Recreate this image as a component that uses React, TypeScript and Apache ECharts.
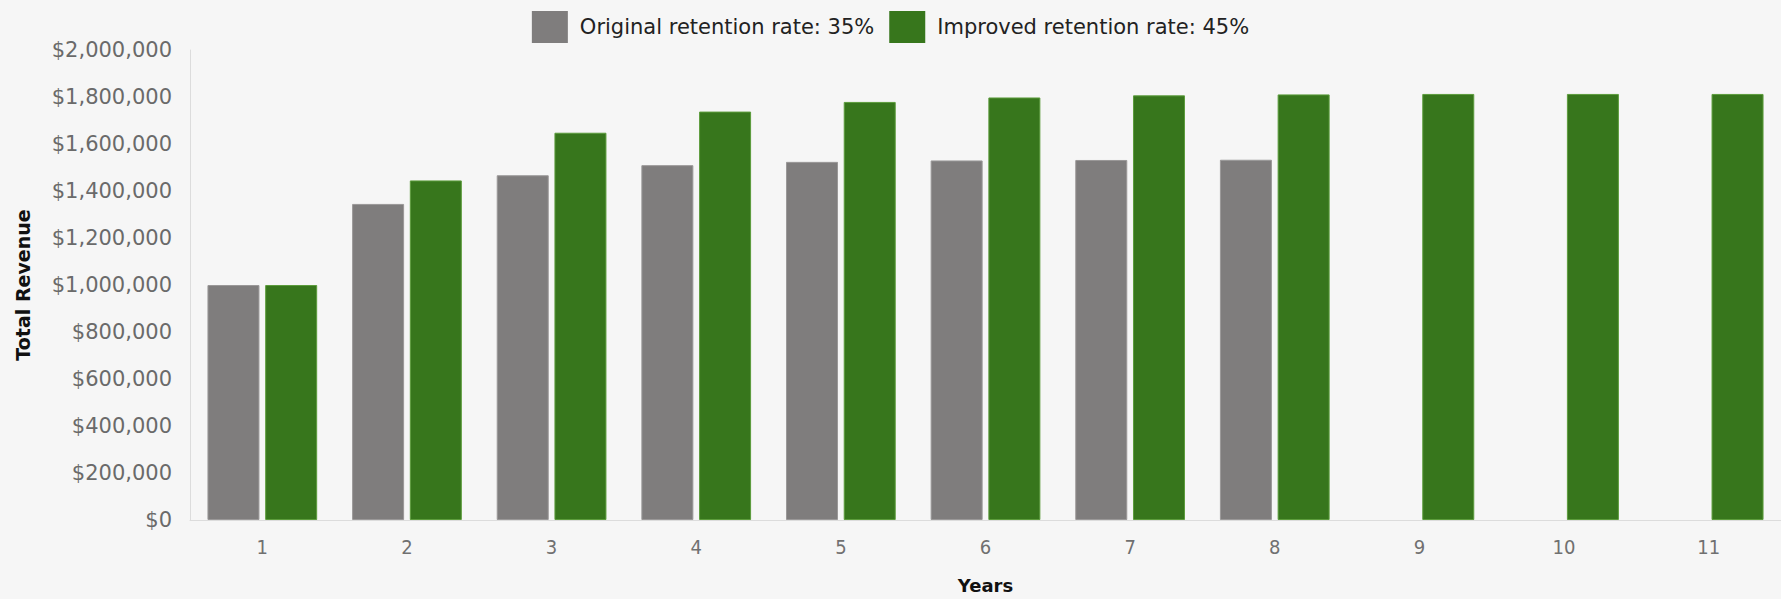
import React, { useEffect, useRef } from "react";
import * as echarts from "echarts";

const years = ["1", "2", "3", "4", "5", "6", "7", "8", "9", "10", "11"];
const originalSeriesName = "Original retention rate: 35%";
const improvedSeriesName = "Improved retention rate: 45%";
const originalRevenue: (number | null)[] = [1000000, 1345000, 1467000, 1510000, 1524000, 1530000, 1532000, 1533000, null, null, null];
const improvedRevenue: number[] = [1000000, 1445000, 1648000, 1738000, 1779000, 1798000, 1807000, 1811000, 1813000, 1813000, 1813000];
const yTicks = { min: 0, max: 2000000, interval: 200000 };

const fmt = (v: number) => "$" + v.toLocaleString("en-US");

export default function App() {
  const ref = useRef<HTMLDivElement>(null);
  useEffect(() => {
    if (!ref.current) return;
    const chart = echarts.init(ref.current, undefined, { renderer: "svg" });
    chart.setOption({
      animation: false,
      backgroundColor: "#f6f6f6",
      legend: {
        top: 6,
        left: "center",
        itemWidth: 36,
        itemHeight: 32,
        itemGap: 15,
        icon: "rect",
        itemStyle: { borderWidth: 0 },
        textStyle: { fontFamily: "DejaVu Sans", fontSize: 21, color: "#222", padding: [0, 0, 0, 7] },
        data: [originalSeriesName, improvedSeriesName],
      },
      grid: { left: 190, right: -4, top: 50, bottom: 68, containLabel: false },
      xAxis: {
        type: "category",
        data: years,
        name: "Years",
        nameLocation: "middle",
        nameGap: 56,
        nameTextStyle: { fontFamily: "DejaVu Sans", fontWeight: "bold", fontSize: 18, color: "#111" },
        axisLine: { lineStyle: { color: "#dcdcdc", width: 1 } },
        axisTick: { show: false },
        axisLabel: { fontFamily: "DejaVu Sans Condensed", fontSize: 20, color: "#707070", margin: 17 },
      },
      yAxis: {
        type: "value",
        min: yTicks.min,
        max: yTicks.max,
        interval: yTicks.interval,
        name: "Total Revenue",
        nameLocation: "middle",
        nameGap: 158,
        nameRotate: 90,
        nameTextStyle: { fontFamily: "DejaVu Sans", fontWeight: "bold", fontSize: 19, color: "#111" },
        axisLine: { show: true, lineStyle: { color: "#dcdcdc", width: 1 } },
        axisTick: { show: false },
        splitLine: { show: false },
        axisLabel: { fontFamily: "DejaVu Sans", fontSize: 21, color: "#6a6a6a", margin: 18, formatter: (v: number) => fmt(v) },
      },
      series: [
        {
          name: originalSeriesName,
          type: "bar",
          data: originalRevenue,
          barWidth: 52,
          barGap: "11%",
          itemStyle: { color: "#7f7d7d", borderColor: "#9a9898", borderWidth: 1 },
        },
        {
          name: improvedSeriesName,
          type: "bar",
          data: improvedRevenue,
          barWidth: 52,
          barGap: "11%",
          itemStyle: { color: "#37761c", borderColor: "#5c9c3c", borderWidth: 1 },
        },
      ],
    });
    return () => chart.dispose();
  }, []);
  return (
    <div
      ref={ref}
      style={{ position: "fixed", left: 0, top: 0, width: 1781, height: 599 }}
    />
  );
}
